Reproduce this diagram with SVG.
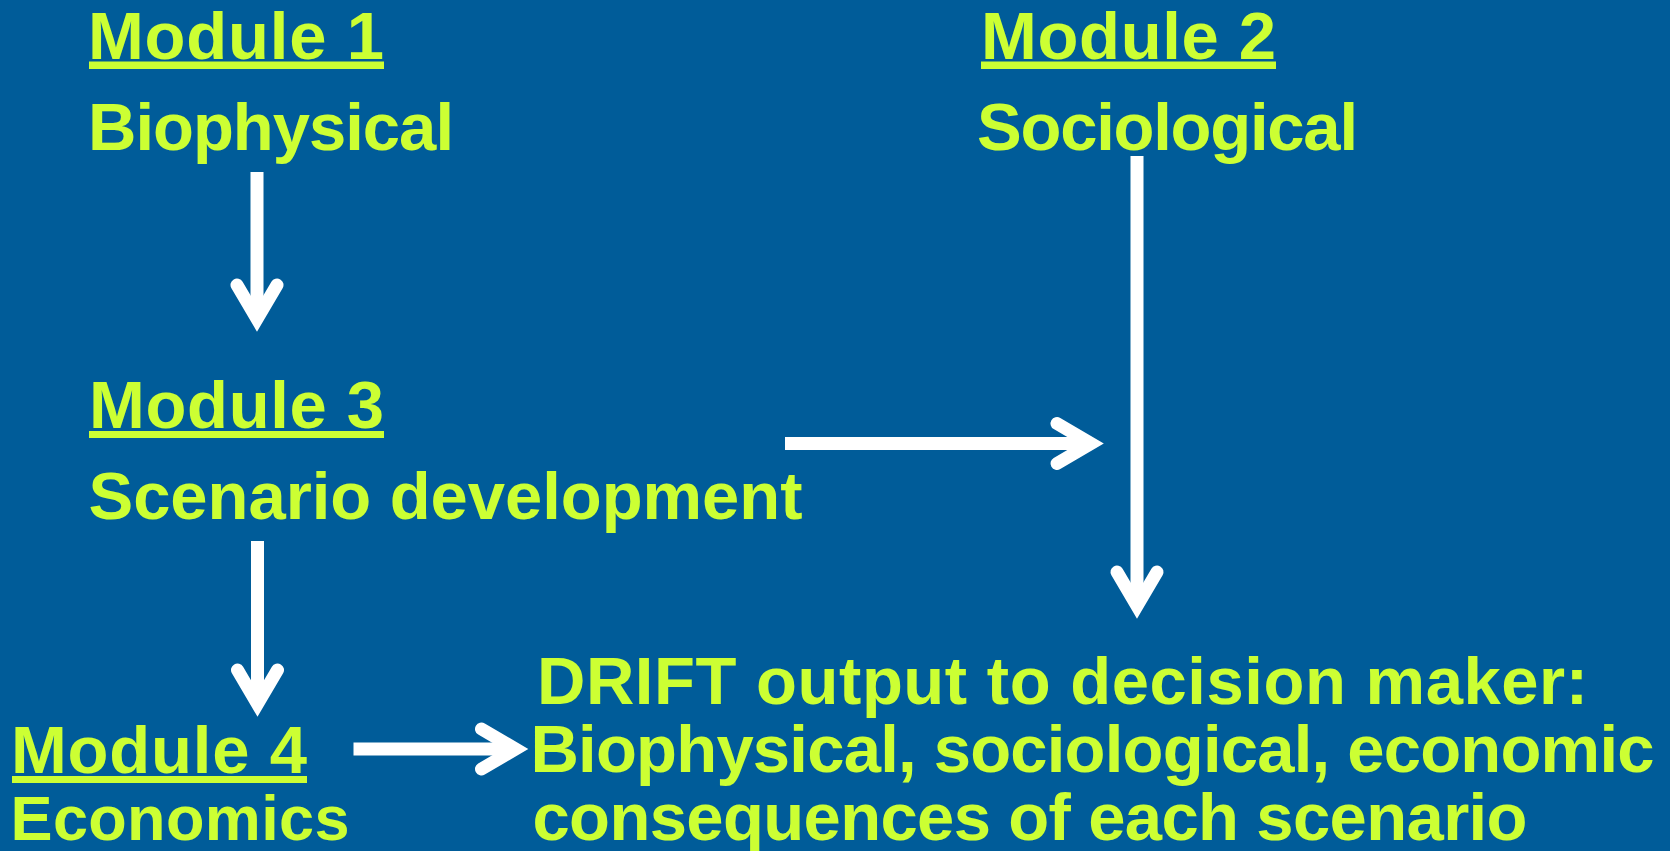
<svg xmlns="http://www.w3.org/2000/svg" width="1670" height="851" viewBox="0 0 1670 851">
<style>
.t{font-family:"Liberation Sans",Arial,Helvetica,sans-serif;font-weight:bold;font-size:67px;fill:#CCFF33}
.s{font-size:63px}
.u{fill:#CCFF33}
.c{stroke:#FFFFFF;stroke-width:13;fill:none}
</style>
<defs>
<marker id="ah" markerUnits="userSpaceOnUse" orient="auto" markerWidth="100" markerHeight="100" viewBox="-50 -50 100 100" refX="0" refY="0" overflow="visible">
<path d="M-34,-20 L0,0 L-34,20" fill="none" stroke="#FFFFFF" stroke-width="13" stroke-linecap="round" stroke-linejoin="miter"/>
</marker>
</defs>
<rect width="1670" height="851" fill="#005C99"/>
<g id="module1">
<text class="t" x="88" y="58.5" textLength="296">Module 1</text>
<rect class="u" x="89" y="61.5" width="295" height="7.5"/>
<text class="t" x="88" y="150" textLength="366">Biophysical</text>
</g>
<g id="module2">
<text class="t" x="981" y="58.5" textLength="295">Module 2</text>
<rect class="u" x="981" y="61.5" width="295" height="7.5"/>
<text class="t" x="977" y="150" textLength="381">Sociological</text>
</g>
<g id="module3">
<text class="t" x="89" y="427.5" textLength="295">Module 3</text>
<rect class="u" x="89" y="431" width="295" height="7"/>
<text class="t" x="88.5" y="518.5" textLength="714">Scenario development</text>
</g>
<g id="module4">
<text class="t" x="11" y="772.5" textLength="296">Module 4</text>
<rect class="u" x="12" y="776" width="295" height="7"/>
<text class="t s" x="10.5" y="839.5" textLength="339">Economics</text>
</g>
<g id="output">
<text class="t" x="537" y="703.5" textLength="1051">DRIFT output to decision maker:</text>
<text class="t" x="530.5" y="771.5" textLength="1124">Biophysical, sociological, economic</text>
<text class="t" x="532.5" y="840" textLength="995">consequences of each scenario</text>
</g>
<g id="connectors">
<line class="c" x1="257" y1="172" x2="257" y2="319" marker-end="url(#ah)"/>
<line class="c" x1="785" y1="443.5" x2="1091" y2="443.5" marker-end="url(#ah)"/>
<line class="c" x1="1137" y1="156" x2="1137" y2="606" marker-end="url(#ah)"/>
<line class="c" x1="257.5" y1="541" x2="257.5" y2="704" marker-end="url(#ah)"/>
<line class="c" x1="353.5" y1="749" x2="515.5" y2="749" marker-end="url(#ah)"/>
</g>
</svg>
